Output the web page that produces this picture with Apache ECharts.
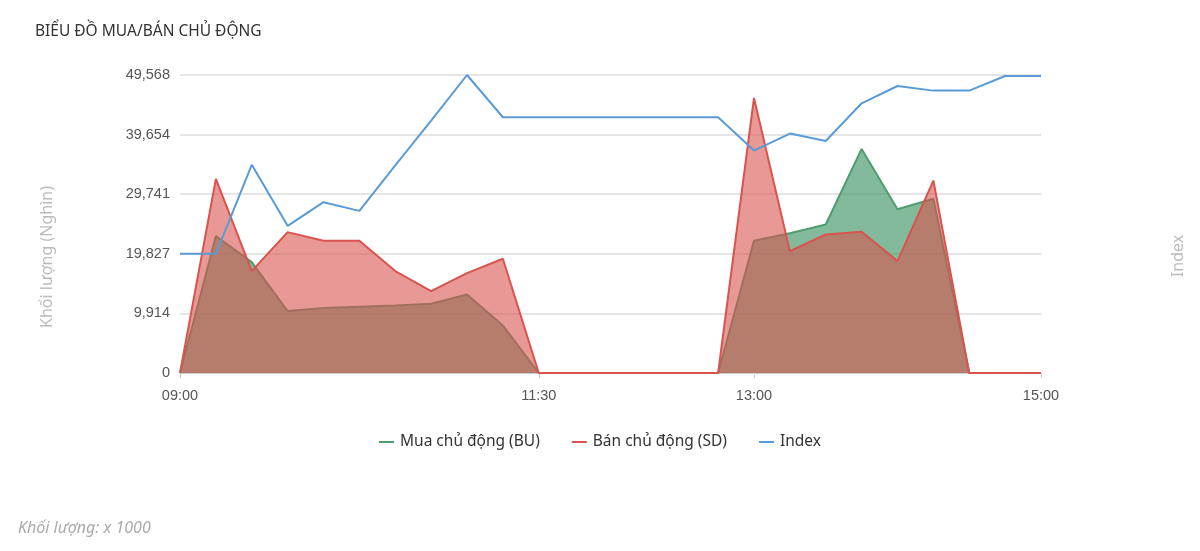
<!DOCTYPE html>
<html>
<head>
<meta charset="utf-8">
<script src="https://cdn.jsdelivr.net/npm/echarts@6/dist/echarts.min.js"></script>
<style>
  html, body { margin: 0; padding: 0; background: #fff; }
  #chart { width: 1200px; height: 551px; }
</style>
</head>
<body>
<div id="chart"></div>
<script>
let times = ['09:00', '09:15', '09:30', '09:45', '10:00', '10:15', '10:30', '10:45', '11:00', '11:15',
             '11:30', '11:45', '12:00', '12:15', '12:30', '12:45', '13:00', '13:15', '13:30', '13:45',
             '14:00', '14:15', '14:30', '14:45', '15:00'];
let shownTimes = ['09:00', '11:30', '13:00', '15:00'];

// khoi luong (x1000)
let buyValues = [0, 22760, 18440, 10300, 10800, 11020, 11240, 11520, 13070, 7920,
                 0, 0, 0, 0, 0, 0, 21990, 23260, 24700, 37270,
                 27250, 28970, 0, 0, 0];
let sellValues = [0, 32290, 16950, 23430, 21990, 21990, 16950, 13630, 16620, 19000,
                  0, 0, 0, 0, 0, 0, 45750, 20270, 23040, 23480,
                  18610, 32010, 0, 0, 0];
let indexValues = [19827, 19827, 34620, 24480, 28410, 26970, 34530, 41980, 49568, 42540,
                   42540, 42540, 42540, 42540, 42540, 42540, 37000, 39820, 38600, 44860,
                   47740, 46970, 46970, 49400, 49400];

let yMax = 49568;
let yStep = yMax / 5;

let chart = echarts.init(document.querySelector('#chart'));

let axisNameStyle = {
  fontFamily: 'Noto Sans',
  fontSize: 16,
  fill: '#bbb',
  align: 'center',
  verticalAlign: 'middle'
};

let option = {
  animation: false,
  title: {
    text: 'BIỂU ĐỒ MUA/BÁN CHỦ ĐỘNG',
    left: 30,
    top: 19,
    textStyle: {
      fontFamily: 'Noto Sans',
      fontSize: 15.5,
      fontWeight: 'normal',
      color: '#333'
    }
  },
  legend: {
    bottom: 96,
    left: 'center',
    itemGap: 32,
    itemWidth: 15,
    itemHeight: 2,
    icon: 'rect',
    textStyle: {
      fontFamily: 'Noto Sans',
      fontSize: 15.5,
      color: '#333',
      padding: [0, 0, 0, 1]
    },
    data: ['Mua chủ động (BU)', 'Bán chủ động (SD)', 'Index']
  },
  grid: {
    left: 180,
    right: 159,
    top: 75,
    bottom: 178
  },
  graphic: [{
    type: 'text',
    x: 47,
    y: 257,
    rotation: Math.PI / 2,
    style: Object.assign({ text: 'Khối lượng (Nghìn)' }, axisNameStyle)
  }, {
    type: 'text',
    x: 1178,
    y: 256,
    rotation: Math.PI / 2,
    style: Object.assign({ text: 'Index' }, axisNameStyle)
  }, {
    type: 'text',
    left: 18,
    top: 520,
    style: {
      text: 'Khối lượng: x 1000',
      fontFamily: 'Noto Sans',
      fontStyle: 'italic',
      fontSize: 16,
      fill: '#aaa'
    }
  }],
  xAxis: {
    type: 'category',
    boundaryGap: false,
    data: times,
    axisLine: { lineStyle: { color: '#ccc' } },
    axisTick: {
      alignWithLabel: true,
      interval: (i, v) => shownTimes.includes(v),
      lineStyle: { color: '#ccc' }
    },
    axisLabel: {
      interval: (i, v) => shownTimes.includes(v),
      fontFamily: 'Liberation Sans',
      fontSize: 14.5,
      color: '#555',
      margin: 15
    }
  },
  yAxis: [{
    type: 'value',
    min: 0,
    max: yMax,
    interval: yStep,
    axisLine: { show: false },
    axisTick: { show: false },
    axisLabel: {
      fontFamily: 'Liberation Sans',
      fontSize: 14.5,
      color: '#555',
      margin: 10,
      formatter: v => Math.round(v).toLocaleString('en-US')
    },
    splitLine: { lineStyle: { color: '#ddd', width: 1.5 } }
  }, {
    type: 'value',
    min: 0,
    max: yMax,
    interval: yStep,
    axisLine: { show: false },
    axisTick: { show: false },
    axisLabel: { show: false },
    splitLine: { show: false }
  }],
  series: [{
    name: 'Mua chủ động (BU)',
    type: 'line',
    z: 2,
    data: buyValues,
    showSymbol: false,
    color: '#4e9c70',
    lineStyle: { width: 2, color: '#4e9c70' },
    areaStyle: { color: '#4e9c70', opacity: 0.7 }
  }, {
    name: 'Bán chủ động (SD)',
    type: 'line',
    z: 3,
    data: sellValues,
    showSymbol: false,
    color: '#d9534f',
    lineStyle: { width: 2, color: '#d9534f' },
    areaStyle: { color: '#d9534f', opacity: 0.6 }
  }, {
    name: 'Index',
    type: 'line',
    z: 4,
    yAxisIndex: 1,
    data: indexValues,
    showSymbol: false,
    color: '#5b9bd5',
    lineStyle: { width: 2, color: '#5b9bd5' }
  }]
};

chart.setOption(option);
</script>
</body>
</html>
